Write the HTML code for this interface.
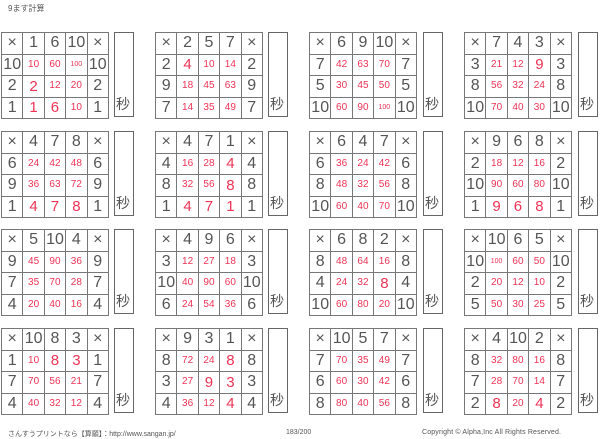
<!DOCTYPE html>
<html><head><meta charset="utf-8"><style>
html,body{margin:0;padding:0;background:#fff;width:600px;height:439px;overflow:hidden;position:relative;font-family:"Liberation Sans","Noto Sans CJK JP",sans-serif}
table{position:absolute;border-collapse:collapse;border:1.5px solid #555;table-layout:fixed}
td{width:20.4px;height:20.5px;padding:0;border:1px solid #777;text-align:center;vertical-align:middle;color:#555;font-size:16px;line-height:1}
td.r{color:#ee3355;font-size:10px}
td.r1{color:#ee3355;font-size:15px}
td.r3{color:#ee3355;font-size:7px}
.b{position:absolute;width:20px;height:85px;border:1.5px solid #666;box-sizing:border-box}
.b span{position:absolute;bottom:2px;left:1px;font-size:14px;color:#555}
.t{position:absolute;font-size:7px;color:#555;white-space:nowrap}
</style></head><body>
<div class="t" style="left:8px;top:3px;font-size:8px">9ます計算</div>

<table style="left:1px;top:32px"><tr><td>×</td><td>1</td><td>6</td><td>10</td><td>×</td></tr><tr><td>10</td><td class="r">10</td><td class="r">60</td><td class="r3">100</td><td>10</td></tr><tr><td>2</td><td class="r1">2</td><td class="r">12</td><td class="r">20</td><td>2</td></tr><tr><td>1</td><td class="r1">1</td><td class="r1">6</td><td class="r">10</td><td>1</td></tr></table>
<div class="b" style="left:114px;top:32px"><span>秒</span></div>

<table style="left:155px;top:32px"><tr><td>×</td><td>2</td><td>5</td><td>7</td><td>×</td></tr><tr><td>2</td><td class="r1">4</td><td class="r">10</td><td class="r">14</td><td>2</td></tr><tr><td>9</td><td class="r">18</td><td class="r">45</td><td class="r">63</td><td>9</td></tr><tr><td>7</td><td class="r">14</td><td class="r">35</td><td class="r">49</td><td>7</td></tr></table>
<div class="b" style="left:268px;top:32px"><span>秒</span></div>

<table style="left:309px;top:32px"><tr><td>×</td><td>6</td><td>9</td><td>10</td><td>×</td></tr><tr><td>7</td><td class="r">42</td><td class="r">63</td><td class="r">70</td><td>7</td></tr><tr><td>5</td><td class="r">30</td><td class="r">45</td><td class="r">50</td><td>5</td></tr><tr><td>10</td><td class="r">60</td><td class="r">90</td><td class="r3">100</td><td>10</td></tr></table>
<div class="b" style="left:423px;top:32px"><span>秒</span></div>

<table style="left:464px;top:32px"><tr><td>×</td><td>7</td><td>4</td><td>3</td><td>×</td></tr><tr><td>3</td><td class="r">21</td><td class="r">12</td><td class="r1">9</td><td>3</td></tr><tr><td>8</td><td class="r">56</td><td class="r">32</td><td class="r">24</td><td>8</td></tr><tr><td>10</td><td class="r">70</td><td class="r">40</td><td class="r">30</td><td>10</td></tr></table>
<div class="b" style="left:578px;top:32px"><span>秒</span></div>

<table style="left:1px;top:131px"><tr><td>×</td><td>4</td><td>7</td><td>8</td><td>×</td></tr><tr><td>6</td><td class="r">24</td><td class="r">42</td><td class="r">48</td><td>6</td></tr><tr><td>9</td><td class="r">36</td><td class="r">63</td><td class="r">72</td><td>9</td></tr><tr><td>1</td><td class="r1">4</td><td class="r1">7</td><td class="r1">8</td><td>1</td></tr></table>
<div class="b" style="left:114px;top:131px"><span>秒</span></div>

<table style="left:155px;top:131px"><tr><td>×</td><td>4</td><td>7</td><td>1</td><td>×</td></tr><tr><td>4</td><td class="r">16</td><td class="r">28</td><td class="r1">4</td><td>4</td></tr><tr><td>8</td><td class="r">32</td><td class="r">56</td><td class="r1">8</td><td>8</td></tr><tr><td>1</td><td class="r1">4</td><td class="r1">7</td><td class="r1">1</td><td>1</td></tr></table>
<div class="b" style="left:268px;top:131px"><span>秒</span></div>

<table style="left:309px;top:131px"><tr><td>×</td><td>6</td><td>4</td><td>7</td><td>×</td></tr><tr><td>6</td><td class="r">36</td><td class="r">24</td><td class="r">42</td><td>6</td></tr><tr><td>8</td><td class="r">48</td><td class="r">32</td><td class="r">56</td><td>8</td></tr><tr><td>10</td><td class="r">60</td><td class="r">40</td><td class="r">70</td><td>10</td></tr></table>
<div class="b" style="left:423px;top:131px"><span>秒</span></div>

<table style="left:464px;top:131px"><tr><td>×</td><td>9</td><td>6</td><td>8</td><td>×</td></tr><tr><td>2</td><td class="r">18</td><td class="r">12</td><td class="r">16</td><td>2</td></tr><tr><td>10</td><td class="r">90</td><td class="r">60</td><td class="r">80</td><td>10</td></tr><tr><td>1</td><td class="r1">9</td><td class="r1">6</td><td class="r1">8</td><td>1</td></tr></table>
<div class="b" style="left:578px;top:131px"><span>秒</span></div>

<table style="left:1px;top:229px"><tr><td>×</td><td>5</td><td>10</td><td>4</td><td>×</td></tr><tr><td>9</td><td class="r">45</td><td class="r">90</td><td class="r">36</td><td>9</td></tr><tr><td>7</td><td class="r">35</td><td class="r">70</td><td class="r">28</td><td>7</td></tr><tr><td>4</td><td class="r">20</td><td class="r">40</td><td class="r">16</td><td>4</td></tr></table>
<div class="b" style="left:114px;top:229px"><span>秒</span></div>

<table style="left:155px;top:229px"><tr><td>×</td><td>4</td><td>9</td><td>6</td><td>×</td></tr><tr><td>3</td><td class="r">12</td><td class="r">27</td><td class="r">18</td><td>3</td></tr><tr><td>10</td><td class="r">40</td><td class="r">90</td><td class="r">60</td><td>10</td></tr><tr><td>6</td><td class="r">24</td><td class="r">54</td><td class="r">36</td><td>6</td></tr></table>
<div class="b" style="left:268px;top:229px"><span>秒</span></div>

<table style="left:309px;top:229px"><tr><td>×</td><td>6</td><td>8</td><td>2</td><td>×</td></tr><tr><td>8</td><td class="r">48</td><td class="r">64</td><td class="r">16</td><td>8</td></tr><tr><td>4</td><td class="r">24</td><td class="r">32</td><td class="r1">8</td><td>4</td></tr><tr><td>10</td><td class="r">60</td><td class="r">80</td><td class="r">20</td><td>10</td></tr></table>
<div class="b" style="left:423px;top:229px"><span>秒</span></div>

<table style="left:464px;top:229px"><tr><td>×</td><td>10</td><td>6</td><td>5</td><td>×</td></tr><tr><td>10</td><td class="r3">100</td><td class="r">60</td><td class="r">50</td><td>10</td></tr><tr><td>2</td><td class="r">20</td><td class="r">12</td><td class="r">10</td><td>2</td></tr><tr><td>5</td><td class="r">50</td><td class="r">30</td><td class="r">25</td><td>5</td></tr></table>
<div class="b" style="left:578px;top:229px"><span>秒</span></div>

<table style="left:1px;top:328px"><tr><td>×</td><td>10</td><td>8</td><td>3</td><td>×</td></tr><tr><td>1</td><td class="r">10</td><td class="r1">8</td><td class="r1">3</td><td>1</td></tr><tr><td>7</td><td class="r">70</td><td class="r">56</td><td class="r">21</td><td>7</td></tr><tr><td>4</td><td class="r">40</td><td class="r">32</td><td class="r">12</td><td>4</td></tr></table>
<div class="b" style="left:114px;top:328px"><span>秒</span></div>

<table style="left:155px;top:328px"><tr><td>×</td><td>9</td><td>3</td><td>1</td><td>×</td></tr><tr><td>8</td><td class="r">72</td><td class="r">24</td><td class="r1">8</td><td>8</td></tr><tr><td>3</td><td class="r">27</td><td class="r1">9</td><td class="r1">3</td><td>3</td></tr><tr><td>4</td><td class="r">36</td><td class="r">12</td><td class="r1">4</td><td>4</td></tr></table>
<div class="b" style="left:268px;top:328px"><span>秒</span></div>

<table style="left:309px;top:328px"><tr><td>×</td><td>10</td><td>5</td><td>7</td><td>×</td></tr><tr><td>7</td><td class="r">70</td><td class="r">35</td><td class="r">49</td><td>7</td></tr><tr><td>6</td><td class="r">60</td><td class="r">30</td><td class="r">42</td><td>6</td></tr><tr><td>8</td><td class="r">80</td><td class="r">40</td><td class="r">56</td><td>8</td></tr></table>
<div class="b" style="left:423px;top:328px"><span>秒</span></div>

<table style="left:464px;top:328px"><tr><td>×</td><td>4</td><td>10</td><td>2</td><td>×</td></tr><tr><td>8</td><td class="r">32</td><td class="r">80</td><td class="r">16</td><td>8</td></tr><tr><td>7</td><td class="r">28</td><td class="r">70</td><td class="r">14</td><td>7</td></tr><tr><td>2</td><td class="r1">8</td><td class="r">20</td><td class="r1">4</td><td>2</td></tr></table>
<div class="b" style="left:578px;top:328px"><span>秒</span></div>

<div class="t" style="left:8px;top:429px">さんすうプリントなら【算願】：http://www.sangan.jp/</div>
<div class="t" style="left:286px;top:429px">183/200</div>
<div class="t" style="left:422px;top:429px;letter-spacing:0.15px">Copyright © Alpha,Inc All Rights Reserved.</div>
</body></html>
